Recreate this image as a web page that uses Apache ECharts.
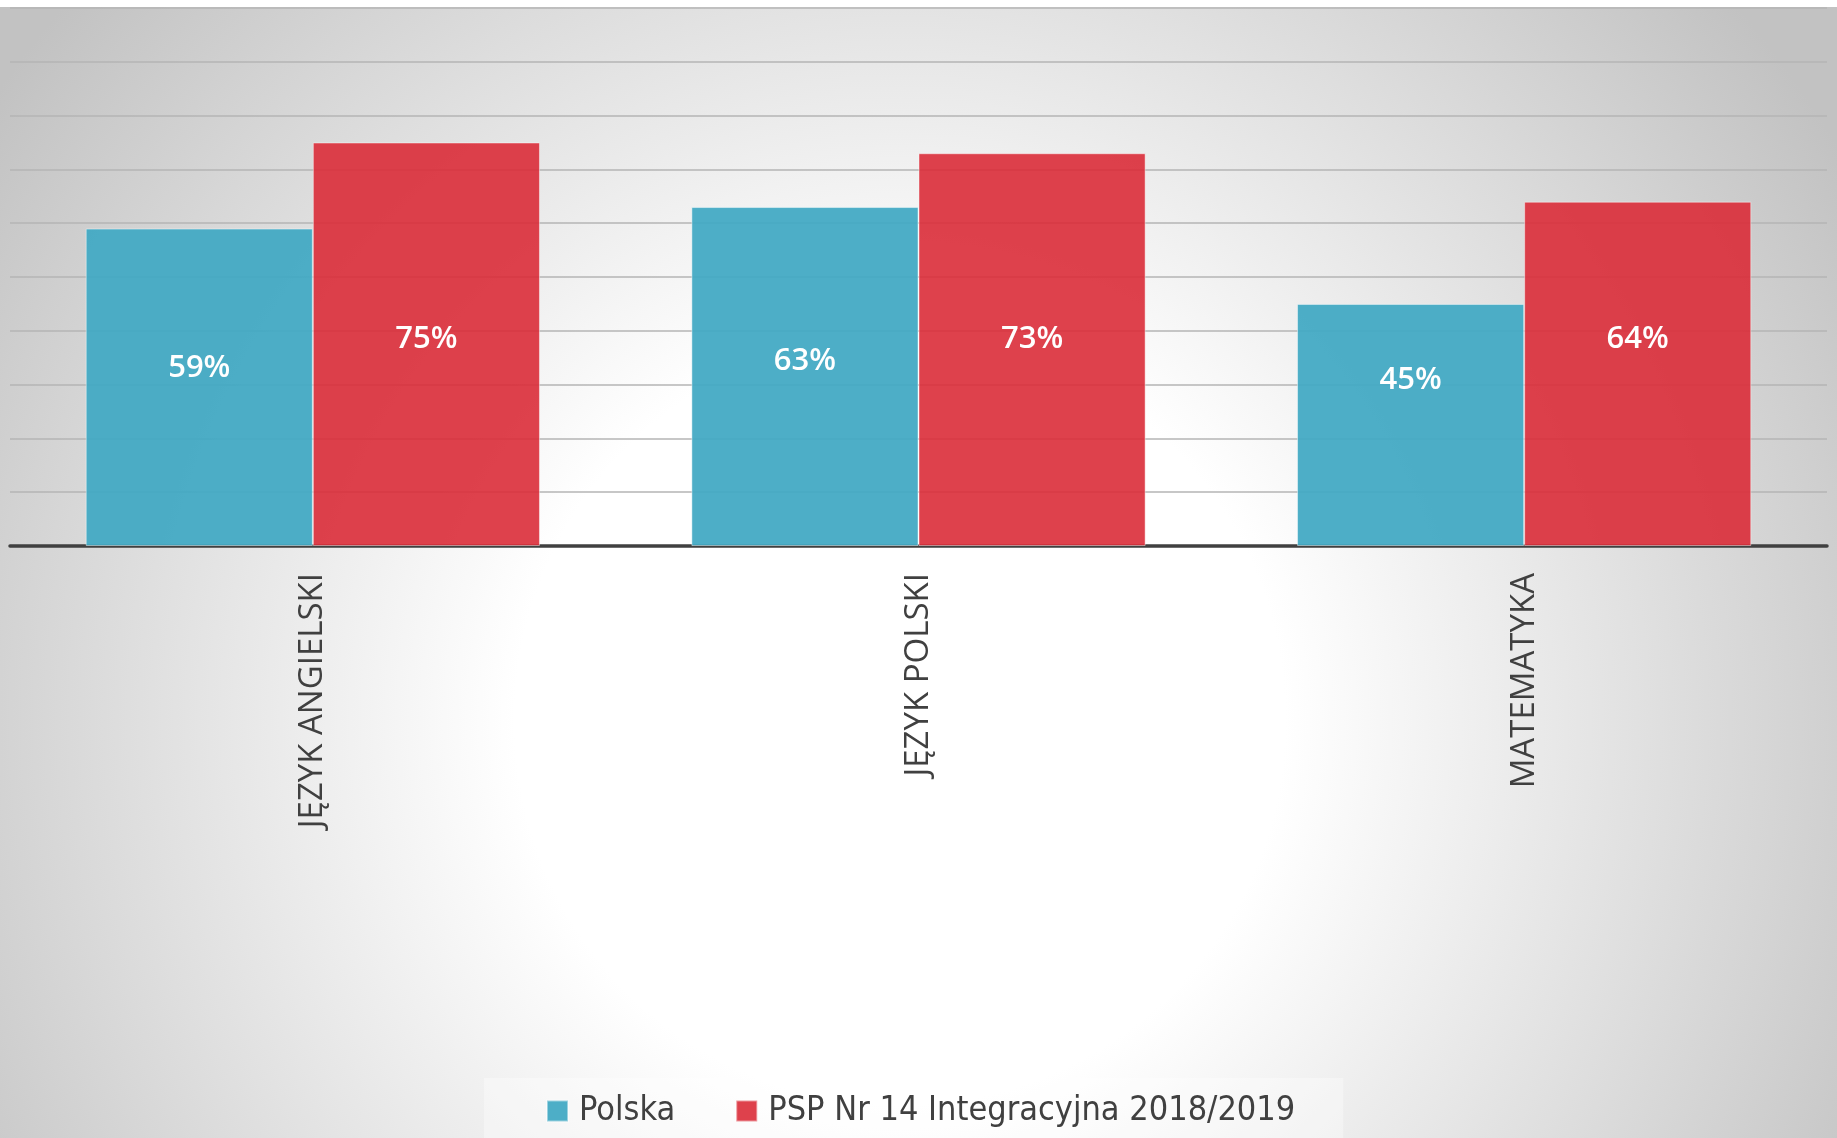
<!DOCTYPE html>
<html><head><meta charset="utf-8">
<script src="https://cdn.jsdelivr.net/npm/echarts@6/dist/echarts.min.js"></script>
<style>html,body{margin:0;padding:0;background:#fff}#c{width:1837px;height:1138px}</style>
</head><body><div id="c"></div>
<script>
const categories = ['JĘZYK ANGIELSKI', 'JĘZYK POLSKI', 'MATEMATYKA'];
const seriesNames = ['Polska', 'PSP Nr 14 Integracyjna 2018/2019'];
const polskaValues = [59, 63, 45];
const pspValues = [75, 73, 64];
const yTicks = [0, 10, 20, 30, 40, 50, 60, 70, 80, 90, 100];
// vertical nudges of the value labels (they sit above the bar centres in the original)
const polskaLabelNudge = [-19, -15, -45];
const pspLabelNudge = [-5, -10, -35];

const chart = echarts.init(document.getElementById('c'), null, {renderer: 'canvas'});
const labelFont = '"Open Sans", sans-serif';
const legendFont = '"Liberation Sans Narrow", "DejaVu Sans Condensed", "Open Sans", sans-serif';

function build(values, nudges) {
  return values.map((v, i) => ({value: v, label: {offset: [0, nudges[i]]}}));
}

const barLabel = {
  show: true, position: 'inside', formatter: '{c}%',
  color: '#ffffff', fontFamily: labelFont, fontSize: 31, fontWeight: 600
};

chart.setOption({
  backgroundColor: new echarts.graphic.RadialGradient(900, 720, 1100, [
    {offset: 0, color: '#ffffff'},
    {offset: 0.35, color: '#ffffff'},
    {offset: 1, color: '#c2c2c2'}
  ], true),
  graphic: [{
    type: 'rect', z: 100, silent: true,
    shape: {x: 0, y: 0, width: 1837, height: 7},
    style: {fill: '#ffffff'}
  }],
  animation: false,
  grid: {left: 10, right: 10, top: 8, bottom: 592, containLabel: false},
  legend: {
    data: seriesNames,
    left: 484, top: 1078,
    padding: [16, 48, 40, 62],
    backgroundColor: 'rgba(255,255,255,0.35)',
    itemWidth: 21, itemHeight: 21, itemGap: 60,
    icon: 'rect',
    textStyle: {fontFamily: legendFont, fontSize: 34, color: '#404040', padding: [0, 0, 0, 6]}
  },
  xAxis: {
    type: 'category', data: categories,
    axisLine: {show: true, lineStyle: {color: '#404040', width: 3.5}},
    axisTick: {show: false},
    axisLabel: {interval: 0, rotate: 90, margin: 27, color: '#404040', fontFamily: labelFont, fontSize: 33}
  },
  yAxis: {
    type: 'value', min: yTicks[0], max: yTicks[yTicks.length - 1], interval: yTicks[1] - yTicks[0],
    axisLabel: {show: false}, axisLine: {show: false}, axisTick: {show: false},
    splitLine: {show: true, lineStyle: {color: '#b4b4b4', width: 1.5}}
  },
  series: [{
    name: seriesNames[0], type: 'bar', data: build(polskaValues, polskaLabelNudge),
    barGap: '0%', barCategoryGap: '25%',
    itemStyle: {color: 'rgba(66,169,196,0.94)', borderColor: 'rgba(255,255,255,0.45)', borderWidth: 1},
    label: barLabel
  }, {
    name: seriesNames[1], type: 'bar', data: build(pspValues, pspLabelNudge),
    barGap: '0%', barCategoryGap: '25%',
    itemStyle: {color: 'rgba(218,44,56,0.9)', borderColor: 'rgba(255,255,255,0.45)', borderWidth: 1},
    label: barLabel
  }]
});
</script></body></html>
